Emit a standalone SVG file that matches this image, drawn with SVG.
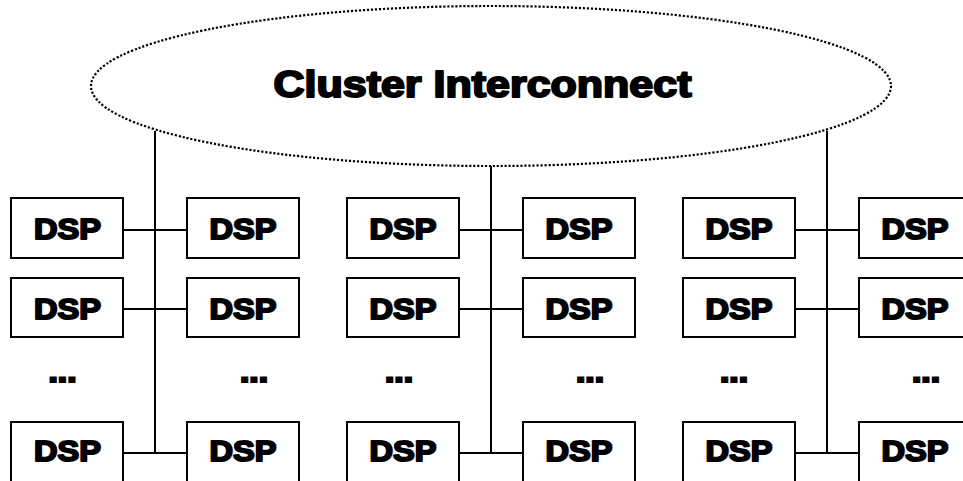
<svg xmlns="http://www.w3.org/2000/svg" width="963" height="481" viewBox="0 0 963 481">
  <style>
    .box { fill: #fff; stroke: #000; stroke-width: 2; }
    .lbl { font-family: "Liberation Sans", Arial, sans-serif; font-weight: bold; font-size: 30px; fill: #000; stroke: #000; stroke-width: 2; stroke-linejoin: round; text-anchor: middle; }
    .dots { font-family: "Liberation Sans", Arial, sans-serif; font-weight: bold; font-size: 30px; fill: #000; stroke: #000; stroke-width: 2.2; text-anchor: middle; }
    .title { font-family: "Liberation Sans", Arial, sans-serif; font-weight: bold; font-size: 36px; fill: #000; stroke: #000; stroke-width: 2; stroke-linejoin: round; text-anchor: middle; }
    .wire { stroke: #000; stroke-width: 2; fill: none; }
  </style>
  <rect width="963" height="481" fill="#fff"/>

  <!-- interconnect cloud -->
  <g id="interconnect">
    <ellipse cx="491" cy="86" rx="400" ry="80" fill="none" stroke="#000" stroke-width="2.2" stroke-dasharray="2.2 1.8"/>
    <text class="title" x="482.5" y="97" textLength="418" lengthAdjust="spacingAndGlyphs">Cluster Interconnect</text>
  </g>

  <!-- buses and links -->
  <g id="connectors">
    <path class="wire" d="M155 131 V453 M123 230 H187 M123 309 H187 M123 453 H187"/>
    <path class="wire" d="M491 166 V453 M459 230 H523 M459 309 H523 M459 453 H523"/>
    <path class="wire" d="M827 131 V453 M795 230 H859 M795 309 H859 M795 453 H859"/>
  </g>

  <!-- column 1 -->
  <g id="dsp-1-1"><rect class="box" x="11" y="198" width="112" height="60"/><text class="lbl" x="67.5" y="239" textLength="67" lengthAdjust="spacingAndGlyphs">DSP</text></g>
  <g id="dsp-1-2"><rect class="box" x="11" y="278" width="112" height="59"/><text class="lbl" x="67.5" y="319" textLength="67" lengthAdjust="spacingAndGlyphs">DSP</text></g>
  <g id="dots-1"><text class="dots" x="62.5" y="382" textLength="28" lengthAdjust="spacingAndGlyphs">...</text></g>
  <g id="dsp-1-n"><rect class="box" x="11" y="422" width="112" height="62"/><text class="lbl" x="67.5" y="461" textLength="67" lengthAdjust="spacingAndGlyphs">DSP</text></g>

  <!-- column 2 -->
  <g id="dsp-2-1"><rect class="box" x="187" y="198" width="112" height="60"/><text class="lbl" x="243" y="239" textLength="67" lengthAdjust="spacingAndGlyphs">DSP</text></g>
  <g id="dsp-2-2"><rect class="box" x="187" y="278" width="112" height="59"/><text class="lbl" x="243" y="319" textLength="67" lengthAdjust="spacingAndGlyphs">DSP</text></g>
  <g id="dots-2"><text class="dots" x="254" y="382" textLength="28" lengthAdjust="spacingAndGlyphs">...</text></g>
  <g id="dsp-2-n"><rect class="box" x="187" y="422" width="112" height="62"/><text class="lbl" x="243" y="461" textLength="67" lengthAdjust="spacingAndGlyphs">DSP</text></g>

  <!-- column 3 -->
  <g id="dsp-3-1"><rect class="box" x="347" y="198" width="112" height="60"/><text class="lbl" x="403" y="239" textLength="67" lengthAdjust="spacingAndGlyphs">DSP</text></g>
  <g id="dsp-3-2"><rect class="box" x="347" y="278" width="112" height="59"/><text class="lbl" x="403" y="319" textLength="67" lengthAdjust="spacingAndGlyphs">DSP</text></g>
  <g id="dots-3"><text class="dots" x="399" y="382" textLength="28" lengthAdjust="spacingAndGlyphs">...</text></g>
  <g id="dsp-3-n"><rect class="box" x="347" y="422" width="112" height="62"/><text class="lbl" x="403" y="461" textLength="67" lengthAdjust="spacingAndGlyphs">DSP</text></g>

  <!-- column 4 -->
  <g id="dsp-4-1"><rect class="box" x="523" y="198" width="112" height="60"/><text class="lbl" x="579" y="239" textLength="67" lengthAdjust="spacingAndGlyphs">DSP</text></g>
  <g id="dsp-4-2"><rect class="box" x="523" y="278" width="112" height="59"/><text class="lbl" x="579" y="319" textLength="67" lengthAdjust="spacingAndGlyphs">DSP</text></g>
  <g id="dots-4"><text class="dots" x="590" y="382" textLength="28" lengthAdjust="spacingAndGlyphs">...</text></g>
  <g id="dsp-4-n"><rect class="box" x="523" y="422" width="112" height="62"/><text class="lbl" x="579" y="461" textLength="67" lengthAdjust="spacingAndGlyphs">DSP</text></g>

  <!-- column 5 -->
  <g id="dsp-5-1"><rect class="box" x="683" y="198" width="112" height="60"/><text class="lbl" x="739" y="239" textLength="67" lengthAdjust="spacingAndGlyphs">DSP</text></g>
  <g id="dsp-5-2"><rect class="box" x="683" y="278" width="112" height="59"/><text class="lbl" x="739" y="319" textLength="67" lengthAdjust="spacingAndGlyphs">DSP</text></g>
  <g id="dots-5"><text class="dots" x="734" y="382" textLength="28" lengthAdjust="spacingAndGlyphs">...</text></g>
  <g id="dsp-5-n"><rect class="box" x="683" y="422" width="112" height="62"/><text class="lbl" x="739" y="461" textLength="67" lengthAdjust="spacingAndGlyphs">DSP</text></g>

  <!-- column 6 -->
  <g id="dsp-6-1"><rect class="box" x="859" y="198" width="112" height="60"/><text class="lbl" x="915" y="239" textLength="67" lengthAdjust="spacingAndGlyphs">DSP</text></g>
  <g id="dsp-6-2"><rect class="box" x="859" y="278" width="112" height="59"/><text class="lbl" x="915" y="319" textLength="67" lengthAdjust="spacingAndGlyphs">DSP</text></g>
  <g id="dots-6"><text class="dots" x="926" y="382" textLength="28" lengthAdjust="spacingAndGlyphs">...</text></g>
  <g id="dsp-6-n"><rect class="box" x="859" y="422" width="112" height="62"/><text class="lbl" x="915" y="461" textLength="67" lengthAdjust="spacingAndGlyphs">DSP</text></g>
</svg>
